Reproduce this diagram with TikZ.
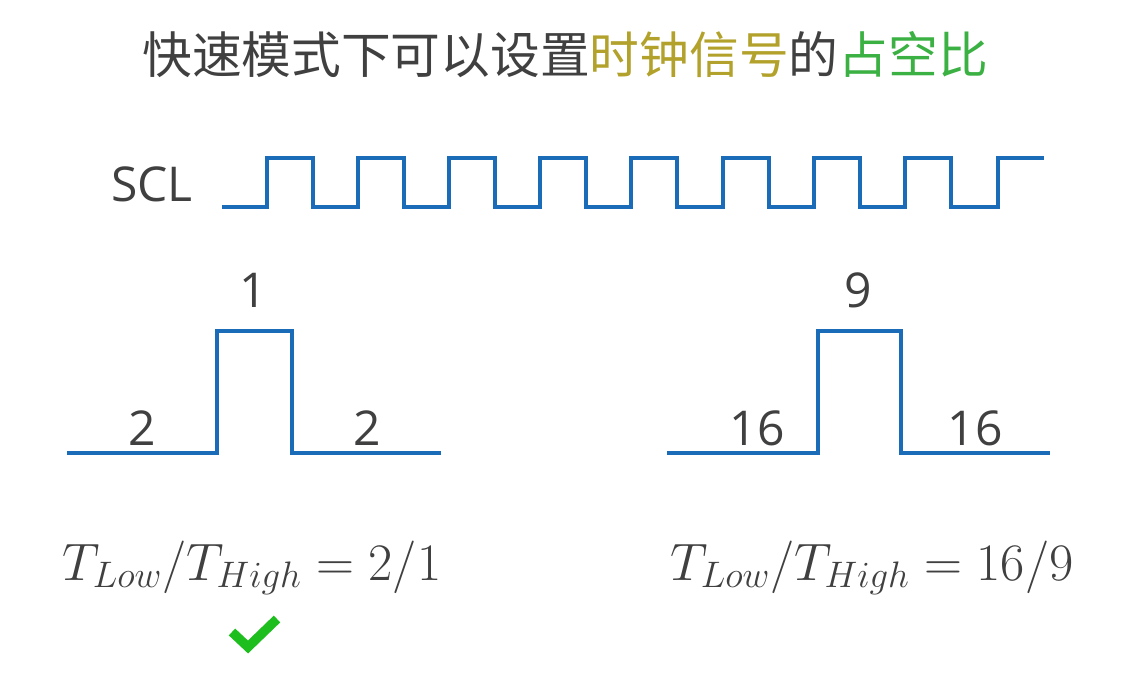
\documentclass[tikz,border=0pt]{standalone}
\usepackage{fix-cm}
\usepackage{fontspec}
\setmainfont{Open Sans}
\newfontfamily\cjk{Noto Sans CJK SC}
\definecolor{txtgray}{HTML}{404040}
\definecolor{olivet}{HTML}{B2A22C}
\definecolor{greent}{HTML}{3BB143}
\definecolor{wave}{HTML}{1A6BB8}
\definecolor{checkg}{HTML}{1DBE1D}
\tikzset{
  x=0.75pt, y=-0.75pt,
  sig/.style={draw=wave, line width=3pt, line join=miter},
  lbl/.style={inner sep=0pt, anchor=base, text=txtgray, font=\fontsize{36}{40}\selectfont},
  ttl/.style={inner sep=0pt, anchor=base, font=\cjk\fontsize{37.3}{44}\selectfont},
  frm/.style={inner sep=0pt, anchor=base, text=txtgray, font=\fontsize{39.5}{44}\selectfont},
}
\begin{document}
\begin{tikzpicture}
\useasboundingbox[fill=white] (0,0) rectangle (1123,684);
% title
\node[ttl] (title) at (565,74) {\textcolor{txtgray}{快速模式下可以设置}\textcolor{olivet}{时钟信号}\textcolor{txtgray}{的}\textcolor{greent}{占空比}};
% SCL
\node[lbl, anchor=base east] (scl) at (193,202) {SCL};
\draw[sig] (222,207)
  \foreach \i in {0,...,7} {
    -- ({267+91.1*\i},207) -- ({267+91.1*\i},158) -- ({313+91.1*\i},158) -- ({313+91.1*\i},207)
  }
  -- (998,207) -- (998,158) -- (1044,158);
% left pulse
\draw[sig] (67,453) -- (217,453) -- (217,331) -- (292,331) -- (292,453) -- (441,453);
\node[lbl] (l2a) at (142,445) {2};
\node[lbl] (l1) at (253,307) {1};
\node[lbl] (l2b) at (367,445) {2};
% right pulse
\draw[sig] (667,453) -- (818,453) -- (818,331) -- (901,331) -- (901,453) -- (1050,453);
\node[lbl] (r16a) at (757,445) {16};
\node[lbl] (r9) at (858,307) {9};
\node[lbl] (r16b) at (975,445) {16};
% formulas
\node[frm] (fl) at (252,580) {$T_{Low}/T_{High}=2/1$};
\node[frm] (fr) at (872,580) {$T_{Low}/T_{High}=16/9$};
% check mark
\draw[checkg, line width=7pt, line join=miter] (232,632) -- (248,647) -- (277,619);
\end{tikzpicture}
\end{document}
